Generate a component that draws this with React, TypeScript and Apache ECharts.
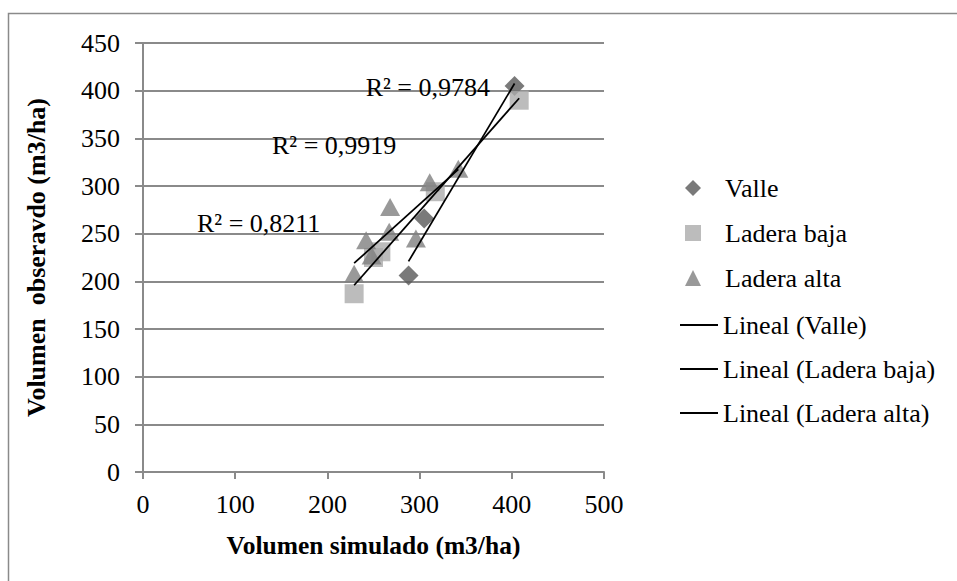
import React, { useEffect, useRef } from "react";
import * as echarts from "echarts";

const FONT = "'Liberation Serif', 'Times New Roman', serif";

// Volumen simulado (x) / Volumen observado (y), m3/ha
const valleX = [288, 305, 403];
const valleY = [206, 266, 405];
const bajaX = [229, 250, 258, 317, 408];
const bajaY = [187, 225, 231, 294, 390];
const altaX = [229, 242, 248, 268, 267, 296, 311, 342];
const altaY = [208, 243, 227, 278, 252, 245, 304, 318];

const xTicks = [0, 100, 200, 300, 400, 500];
const yTicks = [0, 50, 100, 150, 200, 250, 300, 350, 400, 450];

const r2Labels = ["R² = 0,9784", "R² = 0,9919", "R² = 0,8211"];

function pairs(xs: number[], ys: number[]) {
  return xs.map((x, i) => [x, ys[i]]);
}

function trend(xs: number[], ys: number[]) {
  const n = xs.length;
  const mx = xs.reduce((a, b) => a + b, 0) / n;
  const my = ys.reduce((a, b) => a + b, 0) / n;
  let sxy = 0;
  let sxx = 0;
  for (let i = 0; i < n; i++) {
    sxy += (xs[i] - mx) * (ys[i] - my);
    sxx += (xs[i] - mx) * (xs[i] - mx);
  }
  const b = sxy / sxx;
  const a = my - b * mx;
  const x0 = Math.min(...xs);
  const x1 = Math.max(...xs);
  return [
    [x0, a + b * x0],
    [x1, a + b * x1],
  ];
}

export default function App() {
  const ref = useRef<HTMLDivElement>(null);

  useEffect(() => {
    if (!ref.current) return;
    const chart = echarts.init(ref.current, null, { renderer: "svg" });
    const gridColor = "#8a8a8a";
    const lineStyle = { color: "#000", width: 1.75 };
    const FS = 26;
    const txt = { fontFamily: FONT, fontSize: FS, color: "#000" };
    const r2Font = `${FS}px 'Liberation Serif', serif`;
    chart.setOption({
      animation: false,
      backgroundColor: "#fff",
      textStyle: { fontFamily: FONT },
      grid: { left: 143, right: 353, top: 43, bottom: 109, containLabel: false },
      xAxis: {
        type: "value",
        min: xTicks[0],
        max: xTicks[xTicks.length - 1],
        interval: 100,
        name: "Volumen simulado (m3/ha)",
        nameLocation: "middle",
        nameGap: 60,
        nameTextStyle: { ...txt, fontSize: 25.5, fontWeight: "bold" },
        axisLine: { show: true, onZero: false, lineStyle: { color: gridColor, width: 2 } },
        axisTick: { show: true, inside: false, length: 7, lineStyle: { color: gridColor, width: 2 } },
        axisLabel: { ...txt, margin: 19 },
        splitLine: { show: false },
      },
      yAxis: {
        type: "value",
        min: yTicks[0],
        max: yTicks[yTicks.length - 1],
        interval: 50,
        name: "Volumen  obseravdo (m3/ha)",
        nameLocation: "middle",
        nameGap: 94,
        nameRotate: 90,
        nameTextStyle: { ...txt, fontSize: 26, fontWeight: "bold" },
        axisLine: { show: true, lineStyle: { color: gridColor, width: 2 } },
        axisTick: { show: true, inside: false, length: 8, lineStyle: { color: gridColor, width: 2 } },
        axisLabel: { ...txt, margin: 23 },
        splitLine: { show: true, lineStyle: { color: gridColor, width: 2 } },
      },
      legend: [
        {
          data: ["Valle", "Ladera baja", "Ladera alta"],
          orient: "vertical",
          left: 685,
          top: 175,
          padding: 0,
          itemWidth: 16,
          itemHeight: 16,
          itemGap: 19,
          selectedMode: false,
          textStyle: { ...txt, lineHeight: FS, padding: [0, 0, 0, 19] },
        },
        {
          data: [
            { name: "Lineal (Valle)", icon: "rect" },
            { name: "Lineal (Ladera baja)", icon: "rect" },
            { name: "Lineal (Ladera alta)", icon: "rect" },
          ],
          orient: "vertical",
          left: 680,
          top: 312,
          padding: 0,
          itemWidth: 38,
          itemHeight: 2,
          itemGap: 18,
          selectedMode: false,
          itemStyle: { color: "#000", borderWidth: 0 },
          textStyle: { ...txt, lineHeight: FS },
        },
      ],
      graphic: [
        {
          type: "rect",
          shape: { x: 8.5, y: 13.5, width: 1000, height: 1000 },
          style: { fill: "none", stroke: "#8a8a8a", lineWidth: 1.5 },
          silent: true,
          z: -10,
        },
        {
          type: "text",
          x: 490,
          y: 87,
          style: { text: r2Labels[0], font: r2Font, fill: "#000", align: "right", verticalAlign: "middle" },
          z: 100,
        },
        {
          type: "text",
          x: 272,
          y: 145,
          style: { text: r2Labels[1], font: r2Font, fill: "#000", align: "left", verticalAlign: "middle" },
          z: 100,
        },
        {
          type: "text",
          x: 197,
          y: 223,
          style: { text: r2Labels[2], font: r2Font, fill: "#000", align: "left", verticalAlign: "middle" },
          z: 100,
        },
      ],
      series: [
        {
          name: "Valle",
          type: "scatter",
          symbol: "diamond",
          symbolSize: 20,
          itemStyle: { color: "#595959" },
          data: pairs(valleX, valleY),
        },
        {
          name: "Ladera baja",
          type: "scatter",
          symbol: "rect",
          symbolSize: 19,
          itemStyle: { color: "#ababab" },
          data: pairs(bajaX, bajaY),
        },
        {
          name: "Ladera alta",
          type: "scatter",
          symbol: "triangle",
          symbolSize: [20, 18],
          itemStyle: { color: "#7f7f7f" },
          data: pairs(altaX, altaY),
        },
        {
          name: "Lineal (Valle)",
          type: "line",
          symbol: "none",
          lineStyle,
          itemStyle: { color: "#000" },
          data: trend(valleX, valleY),
        },
        {
          name: "Lineal (Ladera baja)",
          type: "line",
          symbol: "none",
          lineStyle,
          itemStyle: { color: "#000" },
          data: trend(bajaX, bajaY),
        },
        {
          name: "Lineal (Ladera alta)",
          type: "line",
          symbol: "none",
          lineStyle,
          itemStyle: { color: "#000" },
          data: trend(altaX, altaY),
        },
      ],
    });
    return () => chart.dispose();
  }, []);

  return (
    <div
      ref={ref}
      style={{ position: "fixed", left: 0, top: 0, width: 957, height: 581, background: "#fff" }}
    />
  );
}
